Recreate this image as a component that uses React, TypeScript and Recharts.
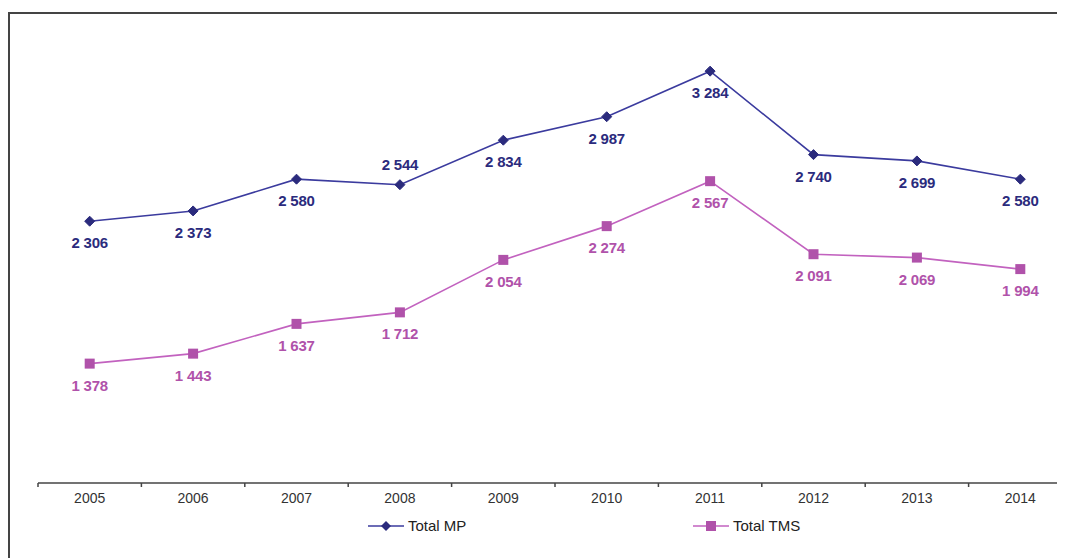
import React from "react";
import { LineChart, Line, XAxis, YAxis, Legend, LabelList } from "recharts";

const years = ["2005", "2006", "2007", "2008", "2009", "2010", "2011", "2012", "2013", "2014"];
const totalMP = [2306, 2373, 2580, 2544, 2834, 2987, 3284, 2740, 2699, 2580];
const totalTMS = [1378, 1443, 1637, 1712, 2054, 2274, 2567, 2091, 2069, 1994];

const data = years.map((y, i) => ({ year: y, mp: totalMP[i], tms: totalTMS[i] }));

const MP_LINE = "#3b3b9e";
const MP_DARK = "#2b2b7d";
const TMS_LINE = "#c262bf";
const TMS_DARK = "#b052aa";
const FONT = "'Liberation Sans', Arial, sans-serif";

const CHART_W = 1080;
const M = { top: 30, right: 16, left: 30, bottom: 20 };
const BAND = (CHART_W - M.left - M.right) / years.length;

const fmt = (v: number) =>
  v >= 1000 ? `${Math.floor(v / 1000)} ${String(v % 1000).padStart(3, "0")}` : String(v);

const Diamond = (props: any) => {
  const { cx, cy } = props;
  if (cx == null || cy == null) return null;
  const r = 5;
  return (
    <path
      d={`M${cx},${cy - r} L${cx + r},${cy} L${cx},${cy + r} L${cx - r},${cy} Z`}
      fill={MP_DARK}
      stroke={MP_DARK}
    />
  );
};

const Square = (props: any) => {
  const { cx, cy } = props;
  if (cx == null || cy == null) return null;
  const s = 10;
  return <rect x={cx - s / 2} y={cy - s / 2} width={s} height={s} fill={TMS_DARK} />;
};

const makeLabel = (color: string, aboveIdx: number[]) => (props: any) => {
  const { x, y, value, index } = props;
  const above = aboveIdx.includes(index);
  return (
    <text
      x={x}
      y={above ? y - 15 : y + 27}
      textAnchor="middle"
      fill={color}
      fontFamily={FONT}
      fontWeight="bold"
      fontSize={15}
      letterSpacing={-0.2}
    >
      {fmt(value)}
    </text>
  );
};

const YearTick = (props: any) => {
  const { x, y, payload, index } = props;
  const isLast = index === years.length - 1;
  return (
    <g>
      <line x1={x - BAND / 2} y1={y} x2={x - BAND / 2} y2={y + 4} stroke="#444" strokeWidth={1.5} />
      {isLast && (
        <line x1={x + BAND / 2} y1={y} x2={x + BAND / 2} y2={y + 4} stroke="#444" strokeWidth={1.5} />
      )}
      <text x={x} y={y + 20} textAnchor="middle" fill="#333" fontFamily={FONT} fontSize={14}>
        {payload.value}
      </text>
    </g>
  );
};

const LegendContent = () => (
  <div style={{ position: "relative", height: 24, fontFamily: FONT, fontSize: 15, color: "#222" }}>
    <svg style={{ position: "absolute", left: 330, top: 6 }} width={40} height={14}>
      <line x1={0} y1={7} x2={36} y2={7} stroke={MP_LINE} strokeWidth={1.5} />
      <path d="M18,2 L23,7 L18,12 L13,7 Z" fill={MP_DARK} />
    </svg>
    <span style={{ position: "absolute", left: 370, top: 4 }}>Total MP</span>
    <svg style={{ position: "absolute", left: 655, top: 6 }} width={40} height={14}>
      <line x1={0} y1={7} x2={36} y2={7} stroke={TMS_LINE} strokeWidth={1.5} />
      <rect x={13} y={2} width={10} height={10} fill={TMS_DARK} />
    </svg>
    <span style={{ position: "absolute", left: 695, top: 4 }}>Total TMS</span>
  </div>
);

export default function App() {
  return (
    <div style={{ position: "relative", width: 1057, height: 550, overflow: "hidden", background: "#fff" }}>
      <div
        style={{
          position: "absolute",
          left: 0,
          top: 4,
          width: 1200,
          height: 700,
          borderLeft: "2px solid #444",
          borderTop: "2px solid #444",
          boxSizing: "border-box",
        }}
      />
      <div style={{ position: "absolute", left: 0, top: 0 }}>
        <LineChart width={CHART_W} height={550} data={data} margin={M}>
          <XAxis
            dataKey="year"
            scale="band"
            interval={0}
            tickLine={false}
            tickSize={0}
            tickMargin={0}
            axisLine={{ stroke: "#444", strokeWidth: 1.5 }}
            tick={<YearTick />}
            height={30}
          />
          <YAxis hide domain={[600, 3500]} />
          <Legend verticalAlign="bottom" height={25} content={<LegendContent />} />
          <Line
            dataKey="mp"
            stroke={MP_LINE}
            strokeWidth={1.6}
            dot={<Diamond />}
            activeDot={false}
            isAnimationActive={false}
          >
            <LabelList dataKey="mp" content={makeLabel(MP_DARK, [3])} />
          </Line>
          <Line
            dataKey="tms"
            stroke={TMS_LINE}
            strokeWidth={1.6}
            dot={<Square />}
            activeDot={false}
            isAnimationActive={false}
          >
            <LabelList dataKey="tms" content={makeLabel(TMS_DARK, [])} />
          </Line>
        </LineChart>
      </div>
    </div>
  );
}
